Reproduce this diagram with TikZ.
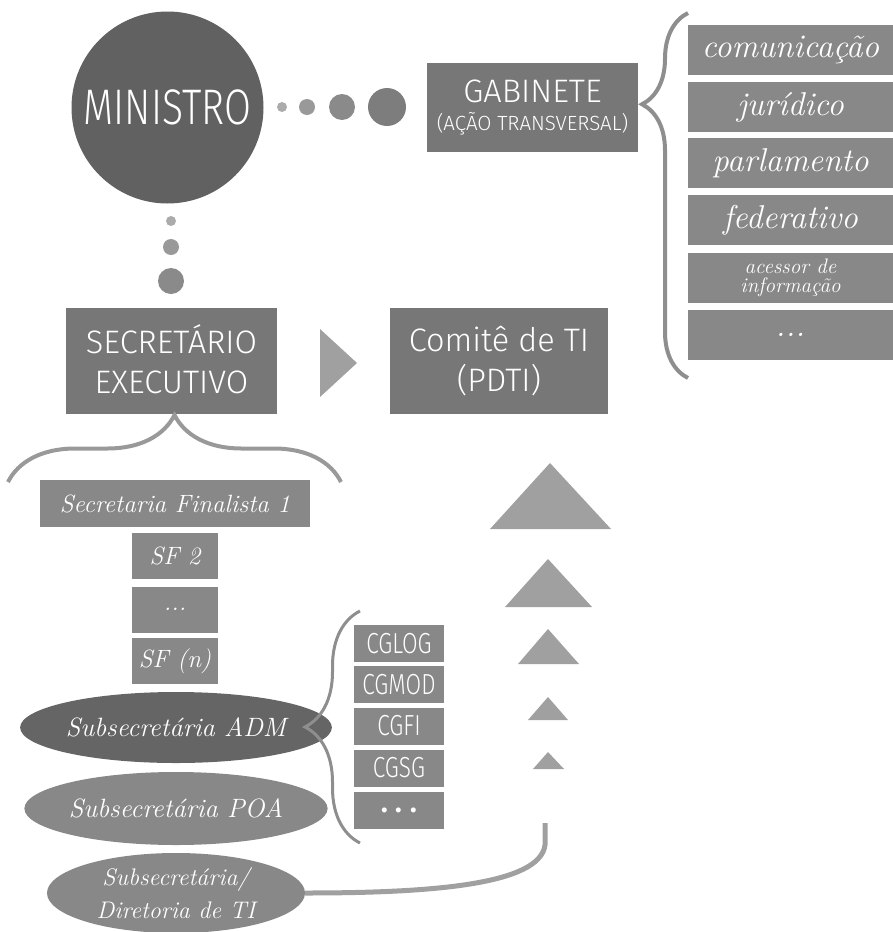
\documentclass[tikz,border=0pt]{standalone}
\usepackage{fontspec}
\usetikzlibrary{decorations.pathreplacing,shapes.geometric}

\newfontfamily\dosis{Fira Sans Light}
\newfontfamily\dosisnarrow[FakeStretch=0.78]{Fira Sans Light}
\newfontfamily\dosisbold{Fira Sans}

\definecolor{ministro}{HTML}{616161}
\definecolor{chefe}{HTML}{777777}
\definecolor{setor}{HTML}{888888}
\definecolor{adm}{HTML}{656565}
\definecolor{seta}{HTML}{A0A0A0}
\definecolor{chave}{HTML}{8E8E8E}

\tikzset{
  chefia/.style={rectangle, fill=chefe, text=white, inner sep=0pt, align=center,
    font=\dosis\fontsize{32.5}{40}\selectfont},
  assessoria/.style={rectangle, fill=setor, text=white, inner sep=0pt,
    minimum width=205pt, minimum height=50pt, font=\itshape\fontsize{33}{33}\selectfont},
  finalista/.style={rectangle, fill=setor, text=white, inner sep=0pt,
    minimum width=86pt, minimum height=46pt, font=\itshape\fontsize{25}{25}\selectfont},
  coord/.style={rectangle, fill=setor, text=white, inner sep=0pt,
    minimum width=90pt, minimum height=37pt, font=\dosisnarrow\fontsize{29}{29}\selectfont},
  subsec/.style={ellipse, fill=setor, text=white, inner sep=0pt, align=center,
    minimum width=258pt, minimum height=72pt, font=\itshape\fontsize{26.5}{33}\selectfont},
  bolinha/.style={circle, inner sep=0pt},
  chave/.style={draw=chave, line width=4pt, decorate,
    decoration={brace, amplitude=#1}},
}

\begin{document}
\begin{tikzpicture}[x=1pt, y=-1pt]
\useasboundingbox (0,0) rectangle (893,932);

\node[circle, fill=ministro, inner sep=0pt, minimum size=192pt, text=white,
  font=\dosisnarrow\fontsize{50}{50}\selectfont] (ministro) at (167.5,107.5) {MINISTRO};

% bolinhas ate o gabinete
\node[bolinha, fill=black!33, minimum size=10pt] (h1) at (282,107) {};
\node[bolinha, fill=black!40, minimum size=16pt] (h2) at (307,107) {};
\node[bolinha, fill=black!46, minimum size=26pt] (h3) at (342,107) {};
\node[bolinha, fill=black!51, minimum size=38pt] (h4) at (387,107) {};

% bolinhas ate o secretario
\node[bolinha, fill=black!33, minimum size=10pt] (v1) at (171,221) {};
\node[bolinha, fill=black!40, minimum size=16pt] (v2) at (171,247) {};
\node[bolinha, fill=black!46, minimum size=26pt] (v3) at (171,281) {};

\node[chefia, minimum width=211pt, minimum height=89pt] (gabinete) at (532.5,107.5)
  {\fontsize{32.5}{29}\selectfont GABINETE\\[-12pt] \fontsize{20.5}{29}\selectfont (AÇÃO TRANSVERSAL)};

\coordinate (gb1) at (688,378);
\coordinate (gb2) at (688,13);
\draw[chave=46, decoration={aspect=0.75}] (gb1) -- (gb2);

\node[assessoria] (com) at (790.5,50) {comunicação};
\node[assessoria] (jur) at (790.5,107) {jurídico};
\node[assessoria] (par) at (790.5,163) {parlamento};
\node[assessoria] (fed) at (790.5,220) {federativo};
\node[assessoria, align=center, font=\itshape\fontsize{21}{19}\selectfont] (ace) at (790.5,278)
  {acessor de\\informação};
\node[assessoria] (mais) at (790.5,335) {...};

\node[chefia, minimum width=211pt, minimum height=106pt] (secex) at (171.5,361)
  {\raisebox{3pt}{SECRETÁRIO}\\\raisebox{3pt}{EXECUTIVO}};
\node[chefia, minimum width=218pt, minimum height=106pt] (comite) at (499,361)
  {Comitê de TI\\(PDTI)};

\fill[seta] (320,329) -- (357,363) -- (320,397) -- cycle;

\coordinate (sb1) at (8,482);
\coordinate (sb2) at (341,482);
\draw[chave=67, draw=black!40] (sb1) -- (sb2);

\node[finalista, minimum width=270pt, minimum height=47pt] (sf1) at (175,503.5) {Secretaria Finalista 1};
\node[finalista] (sf2) at (175,556) {SF 2};
\node[finalista] (sfx) at (175,609.5) {...};
\node[finalista] (sfn) at (175,661) {SF (\textit{n})};

\node[subsec, fill=adm, minimum height=71pt] (adm) at (176,727.5) {Subsecretária ADM};
\node[subsec, minimum height=73pt] (poa) at (176,808.5) {Subsecretária POA};
\node[subsec, minimum height=80pt, font=\itshape\fontsize{24}{33}\selectfont] (dti) at (176,893)
  {Subsecretária/\\Diretoria de TI};

\coordinate (ab1) at (360,843);
\coordinate (ab2) at (360,611);
\draw[chave=55, line width=3pt] (ab1) -- (ab2);

\node[coord] (cglog) at (399,643.5) {CGLOG};
\node[coord] (cgmod) at (399,684.5) {CGMOD};
\node[coord] (cgfi) at (399,726) {CGFI};
\node[coord] (cgsg) at (399,768) {CGSG};
\node[coord, font=\dosisbold\fontsize{36}{36}\selectfont, text height=5pt, text depth=0pt] (cgx) at (399,810)
  {.\hspace{6pt}.\hspace{6pt}.};

% degraus ate o comite
\fill[seta] (490,529) -- (550,463) -- (611,529) -- cycle;
\fill[seta] (505,607) -- (548,559) -- (592,607) -- cycle;
\fill[seta] (518,664) -- (548,629) -- (579,664) -- cycle;
\fill[seta] (528,720) -- (548,697) -- (568,720) -- cycle;
\fill[seta] (533,769) -- (548,752) -- (564,769) -- cycle;

\coordinate (ti) at (545,823);
\draw[seta, line width=5pt] (dti.east) .. controls (430,893) and (540,885) .. (545,845) -- (ti);

\end{tikzpicture}
\end{document}
